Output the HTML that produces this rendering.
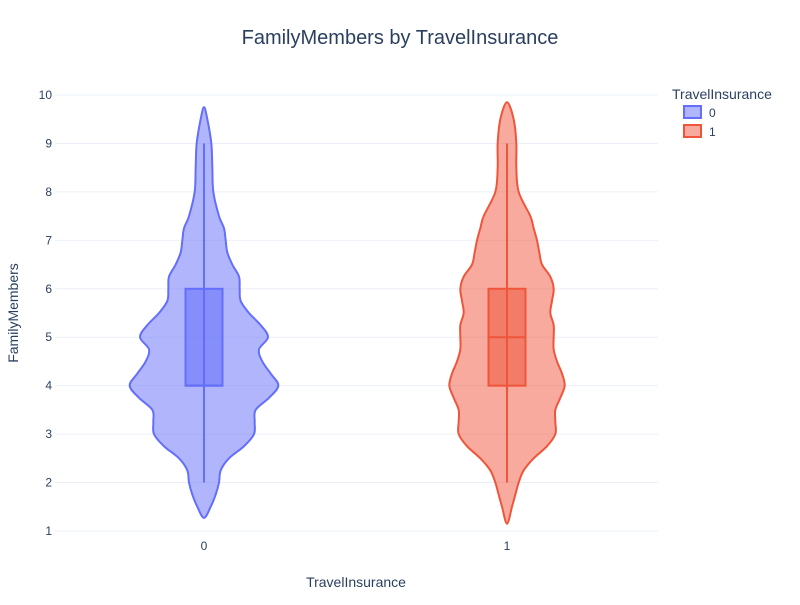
<!DOCTYPE html>
<html><head><meta charset="utf-8"><style>
body{margin:0;background:#fff;font-family:"Liberation Sans",Arial,sans-serif;}
svg text{font-family:"Liberation Sans",Arial,sans-serif;}
</style></head><body>
<svg id="chart" width="800" height="600">
<rect width="800" height="600" fill="#fff"/>
<g id="grid"></g>
<g id="marks"></g>
<g id="axes"></g>
<text x="400" y="44" text-anchor="middle" font-size="20" fill="#2a3f5f">FamilyMembers by TravelInsurance</text>
<text x="356" y="587" text-anchor="middle" font-size="14" fill="#2a3f5f">TravelInsurance</text>
<text transform="translate(18,313) rotate(-90)" text-anchor="middle" font-size="14" fill="#2a3f5f">FamilyMembers</text>
<g>
<text x="672" y="99" font-size="14" fill="#2a3f5f">TravelInsurance</text>
<g>
<rect x="684" y="106" width="17" height="12" fill="rgba(99,110,250,0.5)" stroke="#636efa" stroke-width="2"/>
<text x="709" y="117" font-size="12" fill="#2a3f5f">0</text></g>
<g>
<rect x="684" y="125" width="17" height="12" fill="rgba(239,85,59,0.5)" stroke="#EF553B" stroke-width="2"/>
<text x="709" y="136" font-size="12" fill="#2a3f5f">1</text></g>
</g>
</svg>
<script>
const categories=["0","1"];
const yTicks=[1,2,3,4,5,6,7,8,9,10];
const densityValues0=[1.27,1.5,1.75,2,2.25,2.5,2.75,3,3.25,3.5,3.75,4,4.25,4.5,4.75,5,5.25,5.5,5.75,6,6.25,6.5,6.75,7,7.25,7.5,8,8.5,9,9.5,9.75];
const density0=[0,20,35,45,50,75,120,150,152,155,195,223,200,175,165,192,170,135,110,107,105,85,70,65,60,45,28,25,22,10,0];
const densityValues1=[1.15,1.5,1.75,2,2.25,2.5,2.75,3,3.25,3.5,3.75,4,4.25,4.5,4.75,5,5.25,5.5,5.75,6,6.25,6.5,6.75,7,7.25,7.5,8,8.5,9,9.5,9.85];
const density1=[0,15,25,35,50,80,120,145,145,145,160,173,165,150,140,140,140,130,135,140,130,105,97,90,80,70,35,28,28,20,0];
const q1=[4,4], med=[4,5], q3=[6,6], wLo=[2,2], wHi=[9,9];
const colors=["#636efa","#EF553B"], fills=["rgba(99,110,250,0.5)","rgba(239,85,59,0.5)"], boxFills=["rgba(99,110,250,0.55)","rgba(239,85,59,0.55)"];
const NS="http://www.w3.org/2000/svg";
const L=55,R=658;
function y(v){return 531-(v-1)*(436/9);}
function x(i){return 204+i*303;}
function wScale(d){return d/3;}
const grid=document.getElementById('grid'),axes=document.getElementById('axes'),marks=document.getElementById('marks');
yTicks.forEach(t=>{
 const l=document.createElementNS(NS,'line');
 l.setAttribute('x1',L);l.setAttribute('x2',R);l.setAttribute('y1',y(t));l.setAttribute('y2',y(t));
 l.setAttribute('stroke','#ebf0f8');l.setAttribute('stroke-width','1');
 
 
 grid.appendChild(l);
 const tx=document.createElementNS(NS,'text');
 tx.setAttribute('x',52);tx.setAttribute('y',y(t)+4);tx.setAttribute('text-anchor','end');tx.setAttribute('font-size','12');tx.setAttribute('fill','#2a3f5f');
 tx.textContent=t;
 
 
 axes.appendChild(tx);
});
categories.forEach((c,i)=>{
 const tx=document.createElementNS(NS,'text');
 tx.setAttribute('x',x(i));tx.setAttribute('y',550);tx.setAttribute('text-anchor','middle');tx.setAttribute('font-size','12');tx.setAttribute('fill','#2a3f5f');
 tx.textContent=c;
 
 
 axes.appendChild(tx);
});
[[densityValues0,density0],[densityValues1,density1]].forEach(([vals,dens],i)=>{
 const cx=x(i);
 let pts=[];
 vals.forEach((v,k)=>pts.push([cx+wScale(dens[k]),y(v)]));
 for(let k=vals.length-2;k>=1;k--)pts.push([cx-wScale(dens[k]),y(vals[k])]);
 let d='M'+pts[0][0]+','+pts[0][1];
 const n=pts.length;
 for(let k=0;k<n;k++){
  const p0=pts[(k-1+n)%n],p1=pts[k],p2=pts[(k+1)%n],p3=pts[(k+2)%n];
  const c1=[p1[0]+(p2[0]-p0[0])/6,p1[1]+(p2[1]-p0[1])/6],c2=[p2[0]-(p3[0]-p1[0])/6,p2[1]-(p3[1]-p1[1])/6];
  d+=`C${c1[0]},${c1[1]} ${c2[0]},${c2[1]} ${p2[0]},${p2[1]}`;
 }
 const p=document.createElementNS(NS,'path');
 p.setAttribute('d',d+'Z');p.setAttribute('fill',fills[i]);p.setAttribute('stroke',colors[i]);p.setAttribute('stroke-width','2');
 
 
 marks.appendChild(p);
 const wl=document.createElementNS(NS,'line');
 wl.setAttribute('x1',cx);wl.setAttribute('x2',cx);wl.setAttribute('y1',y(wLo[i]));wl.setAttribute('y2',y(wHi[i]));
 wl.setAttribute('stroke',colors[i]);wl.setAttribute('stroke-width','2');
 
 
 marks.appendChild(wl);
 const b=document.createElementNS(NS,'rect');
 b.setAttribute('x',cx-18.5);b.setAttribute('width',37);b.setAttribute('y',y(q3[i]));b.setAttribute('height',y(q1[i])-y(q3[i]));
 b.setAttribute('fill',boxFills[i]);b.setAttribute('stroke',colors[i]);b.setAttribute('stroke-width','2');
 
 
 marks.appendChild(b);
 const m=document.createElementNS(NS,'line');
 m.setAttribute('x1',cx-18.5);m.setAttribute('x2',cx+18.5);m.setAttribute('y1',y(med[i]));m.setAttribute('y2',y(med[i]));
 m.setAttribute('stroke',colors[i]);m.setAttribute('stroke-width','2');
 
 
 marks.appendChild(m);
});
</script>
</body></html>
